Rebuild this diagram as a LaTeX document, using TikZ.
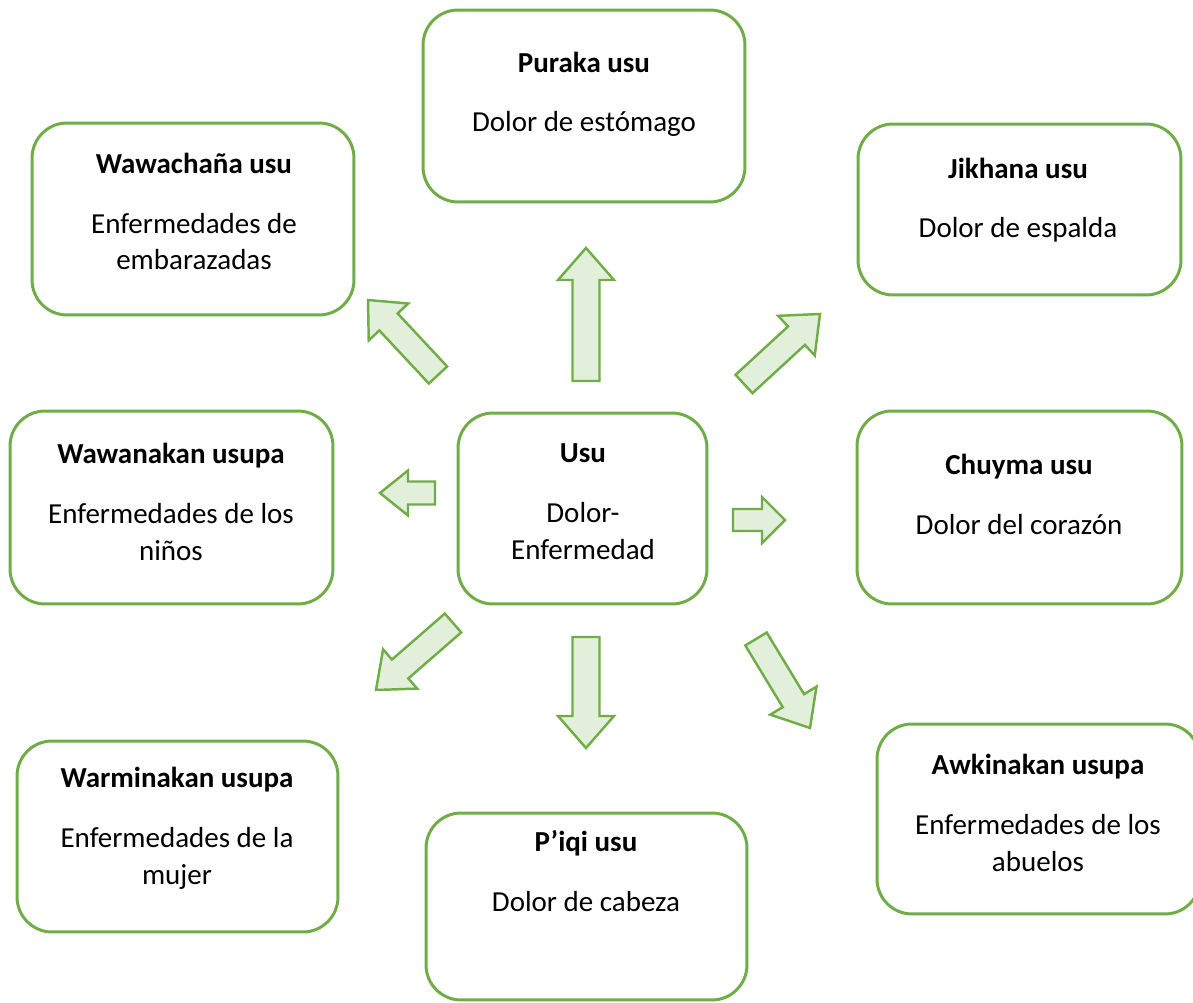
\documentclass[tikz,border=0pt]{standalone}
\usepackage{fontspec}
\setmainfont{Carlito}
\usetikzlibrary{calc}

\definecolor{leafgreen}{HTML}{70AD47}
\definecolor{leaflight}{HTML}{E2EFDA}

\tikzset{
	card/.style={draw=leafgreen, line width=1.7pt, rounded corners=0.7cm, fill=white, inner sep=0pt},
	cardtext/.style={align=center, anchor=base, inner sep=0pt, font=\fontsize{16.5}{21}\selectfont},
	fatarrow/.style={draw=leafgreen, fill=leaflight, line width=1.4pt, line join=miter},
}

% block arrow from #1 to #2: shaft half width #3, head half width #4, head length #5 (px)
\newcommand{\blockarrow}[5]{
	\coordinate (hb) at ($(#2)!#5*0.02cm!(#1)$);
	\draw[fatarrow] ($(#1)!#3*0.02cm!90:(#2)$) -- ($(hb)!#3*0.02cm!90:(#2)$)
		-- ($(hb)!#4*0.02cm!90:(#2)$) -- (#2) -- ($(hb)!#4*0.02cm!-90:(#2)$)
		-- ($(hb)!#3*0.02cm!-90:(#2)$) -- ($(#1)!#3*0.02cm!-90:(#2)$) -- cycle;
}

\begin{document}
\begin{tikzpicture}[x=0.02cm, y=-0.02cm]
	\useasboundingbox (0,0) rectangle (1193,1003);
	\clip (0,0) rectangle (1193,1003);

	% cards
	\node[card, minimum width=6.44cm, minimum height=3.84cm] (puraka) at (584,106) {};
	\node[card, minimum width=6.44cm, minimum height=3.84cm] (wawachana) at (193,219) {};
	\node[card, minimum width=6.46cm, minimum height=3.42cm] (jikhana) at (1019.5,209.5) {};
	\node[card, minimum width=6.46cm, minimum height=3.86cm] (wawanakan) at (171.5,507.5) {};
	\node[card, minimum width=4.98cm, minimum height=3.82cm] (usu) at (582.5,508.5) {};
	\node[card, minimum width=6.50cm, minimum height=3.86cm] (chuyma) at (1019.5,507.5) {};
	\node[card, minimum width=6.42cm, minimum height=3.82cm] (warminakan) at (177.5,836.5) {};
	\node[card, minimum width=6.42cm, minimum height=3.74cm] (piqi) at (586.5,906.5) {};
	\node[card, minimum width=6.46cm, minimum height=3.80cm] (awkinakan) at (1038.5,819) {};

	% texts (placed at the baseline of their last line)
	\node[cardtext] (puraka-t) at (584,132) {\textbf{Puraka usu}\\[13pt] Dolor de estómago};
	\node[cardtext] (wawachana-t) at (194,270) {\textbf{Wawachaña usu}\\[13pt] Enfermedades de\\ embarazadas};
	\node[cardtext] (jikhana-t) at (1018,238) {\textbf{Jikhana usu}\\[13pt] Dolor de espalda};
	\node[cardtext] (wawanakan-t) at (171,560) {\textbf{Wawanakan usupa}\\[13pt] Enfermedades de los\\ niños};
	\node[cardtext] (usu-t) at (583,559) {\textbf{Usu}\\[13pt] Dolor-\\ Enfermedad};
	\node[cardtext] (chuyma-t) at (1019,534) {\textbf{Chuyma usu}\\[13pt] Dolor del corazón};
	\node[cardtext] (warminakan-t) at (177,884) {\textbf{Warminakan usupa}\\[13pt] Enfermedades de la\\ mujer};
	\node[cardtext] (piqi-t) at (586,911) {\textbf{P’iqi usu}\\[13pt] Dolor de cabeza};
	\node[cardtext] (awkinakan-t) at (1038,871) {\textbf{Awkinakan usupa}\\[13pt] Enfermedades de los\\ abuelos};

	% arrows
	\coordinate (up-s) at (586,381);    \coordinate (up-e) at (586,248);
	\coordinate (ne-s) at (744,384);    \coordinate (ne-e) at (820,314);
	\coordinate (nw-s) at (438,375);    \coordinate (nw-e) at (368,300);
	\coordinate (w-s) at (435,493);     \coordinate (w-e) at (380,493);
	\coordinate (e-s) at (733,520);     \coordinate (e-e) at (785,520);
	\coordinate (sw-s) at (453,623);    \coordinate (sw-e) at (376,690);
	\coordinate (down-s) at (586,637);  \coordinate (down-e) at (586,748);
	\coordinate (se-s) at (756,639);    \coordinate (se-e) at (810,728);

	\blockarrow{up-s}{up-e}{13.5}{28}{32}
	\blockarrow{ne-s}{ne-e}{12.5}{27}{32}
	\blockarrow{nw-s}{nw-e}{12.5}{27}{30}
	\blockarrow{w-s}{w-e}{11.5}{22.5}{28}
	\blockarrow{e-s}{e-e}{11}{23}{23}
	\blockarrow{sw-s}{sw-e}{12.5}{26}{32}
	\blockarrow{down-s}{down-e}{13.5}{28}{32}
	\blockarrow{se-s}{se-e}{12.5}{27}{32}
\end{tikzpicture}
\end{document}
